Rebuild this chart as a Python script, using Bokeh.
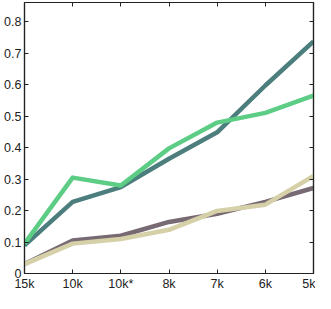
from bokeh.plotting import figure
from bokeh.models import FixedTicker, LinearAxis, Range1d
from bokeh.embed import file_html
from bokeh.resources import INLINE

categories = ["15k", "10k", "10k*", "8k", "7k", "6k", "5k"]
teal = [0.09, 0.228, 0.275, 0.365, 0.449, 0.598, 0.738]
green = [0.095, 0.305, 0.28, 0.398, 0.48, 0.511, 0.566]
mauve = [0.03, 0.105, 0.12, 0.164, 0.19, 0.228, 0.272]
beige = [0.03, 0.095, 0.11, 0.139, 0.199, 0.219, 0.31]
y_ticks = [0, 0.1, 0.2, 0.3, 0.4, 0.5, 0.6, 0.7, 0.8]

xs = list(range(len(categories)))

p = figure(width=315, height=293, output_backend="svg", toolbar_location=None,
           x_range=Range1d(0, len(categories) - 1), y_range=Range1d(0, 0.862),
           min_border_left=24, min_border_right=2, min_border_top=2, min_border_bottom=20)
p.grid.visible = False
p.outline_line_color = "#222222"
p.outline_line_width = 1.2

series = [(teal, "#4b7e7c"), (green, "#5dcd86"), (mauve, "#786a72"), (beige, "#d5d0a8")]
for ys, c in series:
    p.line(xs, ys, line_color=c, line_width=4.5, line_join="round")

xlabels = {i: c for i, c in enumerate(categories)}
ylabels = {t: ("0" if t == 0 else str(t)) for t in y_ticks}

def style(ax, labels=True):
    ax.axis_line_color = "#222222"
    ax.axis_line_width = 1.2
    ax.major_tick_in = 4
    ax.major_tick_out = 0
    ax.major_tick_line_color = "#222222"
    ax.minor_tick_line_color = None
    ax.major_label_text_font = "Liberation Sans"
    ax.major_label_text_font_size = "12.5px"
    ax.major_label_text_color = "#222222"
    ax.major_label_standoff = 3

xa = p.xaxis[0]
xa.ticker = FixedTicker(ticks=xs)
xa.major_label_overrides = xlabels
style(xa)
ya = p.yaxis[0]
ya.ticker = FixedTicker(ticks=y_ticks)
ya.major_label_overrides = ylabels
style(ya)

top = LinearAxis(ticker=FixedTicker(ticks=xs))
style(top)
top.major_label_overrides = {i: "" for i in xs}
top.major_label_standoff = 0
p.add_layout(top, "above")
right = LinearAxis(ticker=FixedTicker(ticks=y_ticks))
style(right)
right.major_label_overrides = {t: "" for t in y_ticks}
right.major_label_standoff = 0
p.add_layout(right, "right")

open("out.html", "w").write(file_html(p, INLINE))
